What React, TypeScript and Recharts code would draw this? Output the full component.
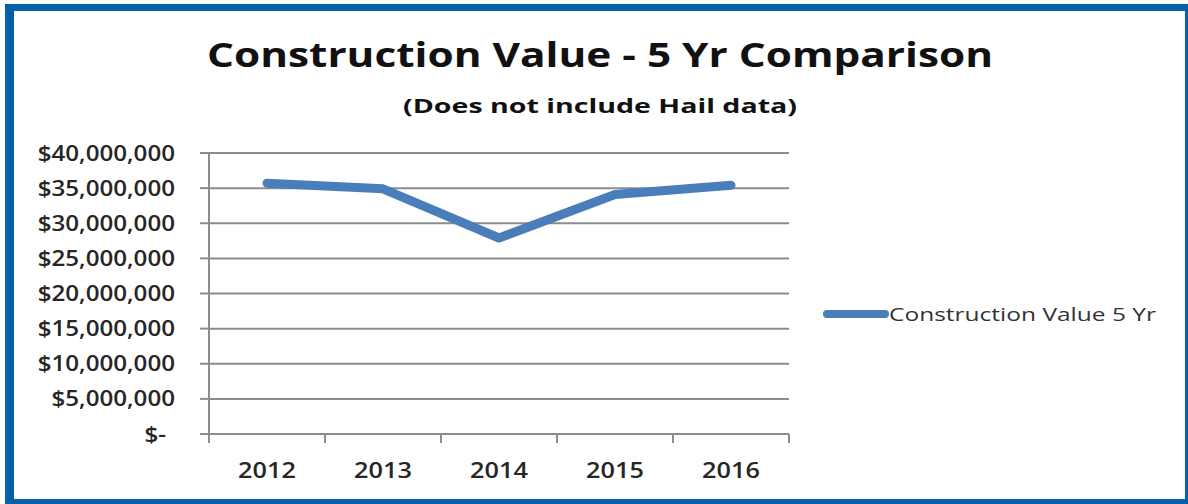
import { LineChart, Line, XAxis, YAxis, CartesianGrid, Legend } from 'recharts';

// values
const years = ['2012', '2013', '2014', '2015', '2016'];
const constructionValue = [35700000, 34900000, 27900000, 34100000, 35400000];
const valueTicks = [0, 5000000, 10000000, 15000000, 20000000, 25000000, 30000000, 35000000, 40000000];

const seriesName = 'Construction Value 5 Yr';
const chartTitle = 'Construction Value - 5 Yr Comparison';
const chartSubtitle = '(Does not include Hail data)';

const data = years.map((year, i) => ({ year, value: constructionValue[i] }));

const LINE_BLUE = '#4a7ebb';
const FRAME_BLUE = '#0860aa';
const GRID = '#8c8c8c';
const FONT = '"Open Sans", sans-serif';
const STRETCH = 1.15;

const money = (v: number) =>
  v === 0 ? '$-' : '$' + String(v).replace(/\B(?=(\d{3})+(?!\d))/g, ',');

function ValueTick({ x, y, payload }: any) {
  const shift = payload.value === 0 ? -9 : 0;
  return (
    <g transform={`translate(${x + shift},${y}) scale(${STRETCH},1)`}>
      <text x={0} y={0} dy="0.36em" textAnchor="end" fontFamily={FONT} fontSize={21} fontWeight={600} fill="#262626">
        {money(payload.value)}
      </text>
    </g>
  );
}

function YearTick({ x, y, payload, index, visibleTicksCount, width }: any) {
  const half = width / visibleTicksCount / 2;
  return (
    <g>
      <line x1={x - half} x2={x - half} y1={y} y2={y + 9} stroke={GRID} strokeWidth={2} />
      {index === visibleTicksCount - 1 && (
        <line x1={x + half} x2={x + half} y1={y} y2={y + 9} stroke={GRID} strokeWidth={2} />
      )}
      <g transform={`translate(${x},${y + 44}) scale(${STRETCH},1)`}>
        <text x={0} y={0} textAnchor="middle" fontFamily={FONT} fontSize={22} fontWeight={600} fill="#262626">
          {payload.value}
        </text>
      </g>
    </g>
  );
}

function SeriesLegend({ payload }: any) {
  return (
    <svg width={360} height={30}>
      {(payload || []).map((p: any) => (
        <g key={p.value}>
          <line x1={4} x2={62} y1={14} y2={14} stroke={p.color} strokeWidth={8} strokeLinecap="round" />
          <text x={66} y={21} fontFamily={FONT} fontSize={19} fill="#333" textLength={267} lengthAdjust="spacingAndGlyphs">
            {p.value}
          </text>
        </g>
      ))}
    </svg>
  );
}

export default function App() {
  return (
    <div style={{ position: 'absolute', left: 0, top: 0, width: 1188, height: 504, background: '#fff' }}>
      <div
        style={{
          position: 'absolute',
          left: 5,
          top: 4,
          width: 1183,
          height: 500,
          boxSizing: 'border-box',
          borderStyle: 'solid',
          borderColor: FRAME_BLUE,
          borderWidth: '7px 3px 5px 9px',
        }}
      />
      <svg width={1188} height={130} style={{ position: 'absolute', left: 0, top: 0 }}>
        <text x={600} y={67} textAnchor="middle" fontFamily={FONT} fontSize={34} fontWeight={700} fill="#111" textLength={786} lengthAdjust="spacingAndGlyphs">
          {chartTitle}
        </text>
        <text x={600} y={113} textAnchor="middle" fontFamily={FONT} fontSize={20} fontWeight={700} fill="#111" textLength={394} lengthAdjust="spacingAndGlyphs">
          {chartSubtitle}
        </text>
      </svg>
      <div style={{ position: 'absolute', left: 0, top: 0 }}>
        <LineChart width={1188} height={504} data={data} margin={{ top: 153, right: 399, bottom: 0, left: 0 }}>
          <CartesianGrid vertical={false} stroke={GRID} strokeWidth={2} />
          <XAxis
            dataKey="year"
            height={70}
            padding={{ left: 58, right: 58 }}
            axisLine={{ stroke: GRID, strokeWidth: 2 }}
            tickLine={false}
            tickSize={0}
            tickMargin={0}
            tick={<YearTick />}
            interval={0}
          />
          <YAxis
            width={209}
            domain={[0, 40000000]}
            ticks={valueTicks}
            interval={0}
            axisLine={{ stroke: GRID, strokeWidth: 2 }}
            tickLine={{ stroke: GRID, strokeWidth: 2 }}
            tickSize={9}
            tickMargin={25}
            tick={<ValueTick />}
          />
          <Legend
            layout="horizontal"
            verticalAlign="middle"
            align="center"
            wrapperStyle={{ left: 823, top: 300, width: 360 }}
            content={<SeriesLegend />}
          />
          <Line
            name={seriesName}
            type="linear"
            dataKey="value"
            stroke={LINE_BLUE}
            strokeWidth={9}
            strokeLinecap="round"
            strokeLinejoin="round"
            dot={false}
            activeDot={false}
            isAnimationActive={false}
          />
        </LineChart>
      </div>
    </div>
  );
}
